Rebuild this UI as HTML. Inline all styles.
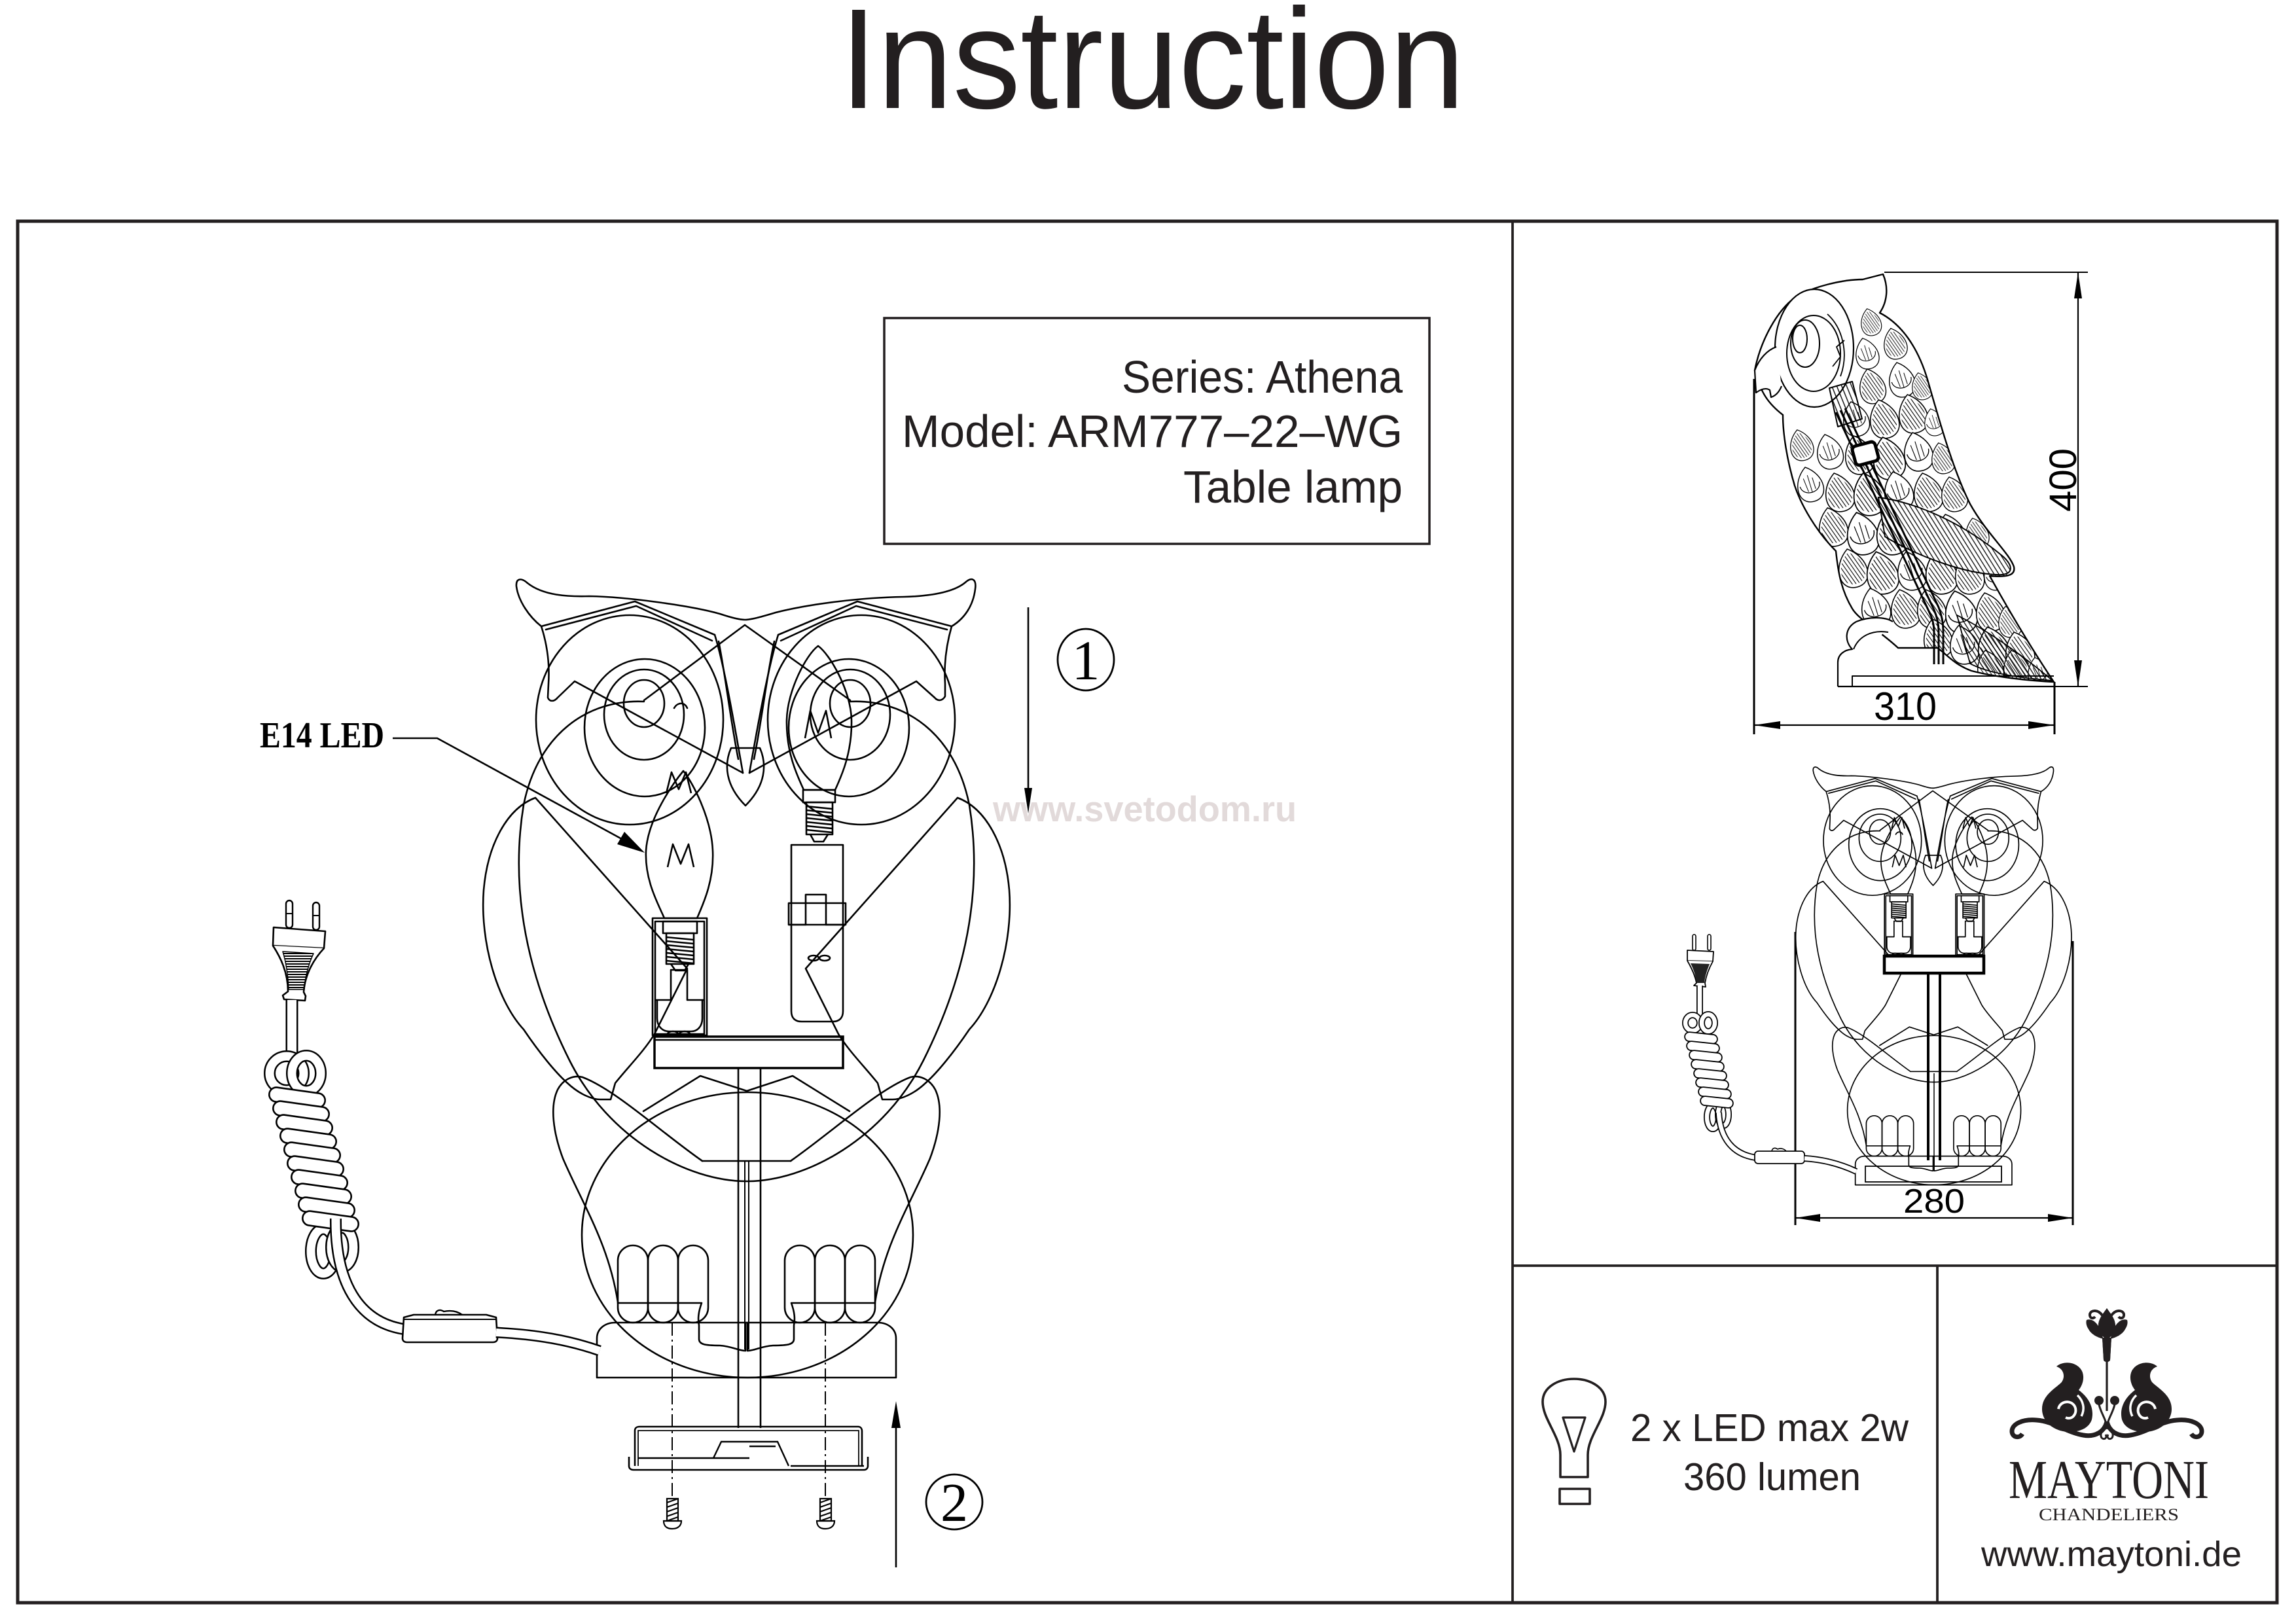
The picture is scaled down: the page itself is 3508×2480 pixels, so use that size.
<!DOCTYPE html>
<html><head><meta charset="utf-8">
<style>
html,body{margin:0;padding:0;background:#fff;}
svg{display:block;}
</style></head><body>
<svg width="3508" height="2480" viewBox="0 0 3508 2480" xmlns="http://www.w3.org/2000/svg" xmlns:xlink="http://www.w3.org/1999/xlink">
<defs>
  <pattern id="hatch" width="7" height="7" patternUnits="userSpaceOnUse" patternTransform="rotate(-22)">
    <line x1="1" y1="0" x2="1" y2="7" stroke="#000" stroke-width="1.4"/>
  </pattern>
  <pattern id="hatch2" width="6" height="6" patternUnits="userSpaceOnUse" patternTransform="rotate(-32)">
    <line x1="1" y1="0" x2="1" y2="6" stroke="#000" stroke-width="1.3"/>
  </pattern>
  <pattern id="hatch3" width="5" height="5" patternUnits="userSpaceOnUse" patternTransform="rotate(-20)">
    <line x1="1" y1="0" x2="1" y2="5" stroke="#000" stroke-width="1.1"/>
  </pattern>
  <pattern id="hz" width="4" height="4" patternUnits="userSpaceOnUse">
    <line x1="0" y1="1" x2="4" y2="1" stroke="#000" stroke-width="2"/>
  </pattern>

  <g id="feaA">
    <path d="M0,-30 C30,-9 28,30 0,30 C-28,30 -30,-9 0,-30 Z" fill="#fff" stroke="#000" stroke-width="1.6"/>
    <path d="M0,-25 C25,-8 24,25 0,25 C-24,25 -25,-8 0,-25 Z" fill="url(#hatch3)" stroke="none"/>
  </g>
  <g id="feaB">
    <path d="M0,-30 C30,-9 28,30 0,30 C-28,30 -30,-9 0,-30 Z" fill="#fff" stroke="#000" stroke-width="1.6"/>
    <path d="M-17,0 C-16,19 16,19 17,0" fill="none" stroke="#000" stroke-width="1.4"/>
    <path d="M-8,-12 L-5,12 M0,-16 L1,14 M7,-10 L8,10" fill="none" stroke="#000" stroke-width="1.1"/>
  </g>

  <clipPath id="bodyclip">
    <path d="M2681,566 C2690,520 2715,475 2742,455 C2770,437 2818,427 2846,427 L2877,419 C2886,440 2883,462 2872,478 C2905,495 2930,530 2945,580 C2965,650 2985,720 3010,770 C3035,815 3070,845 3077,866 C3080,880 3065,882 3040,880 C3065,925 3100,985 3138,1042 C3100,1040 3050,1035 3012,1025 C2985,1015 2975,1000 2960,990 L2900,990 C2870,962 2840,947 2830,930 C2812,900 2808,870 2805,842 C2775,812 2752,772 2742,742 C2730,702 2724,662 2724,634 C2702,617 2690,600 2681,566 Z"/>
  </clipPath>

  <g id="owlB" fill="none" stroke="#000" stroke-linejoin="round" stroke-linecap="round">
    <path d="M827,957 C808,942 792,918 789,896 C788,884 796,882 806,891 C830,910 868,912 900,911 C960,912 1058,926 1100,938 C1118,944 1130,947 1138,947 C1148,947 1165,942 1185,936 C1240,922 1320,913 1380,912 C1420,911 1458,905 1476,889 C1486,881 1492,886 1490,900 C1487,925 1474,945 1454,957"/>
    <path d="M827,957 L970,919 L1092,970"/>
    <path d="M834,962 L972,926 L1088,979"/>
    <path d="M1454,957 L1310,919 L1189,970"/>
    <path d="M1447,962 L1308,926 L1193,979"/>
    <path d="M827,957 C836,985 840,1015 838,1045 L837,1066 C840,1073 847,1072 852,1066 L878,1041 L1135,1181"/>
    <path d="M1454,957 C1446,985 1442,1015 1444,1045 L1444,1064 C1440,1071 1433,1072 1428,1066 L1400,1041 L1145,1181"/>
    <path d="M1092,970 C1106,1015 1120,1095 1135,1181"/>
    <path d="M1098,980 C1108,1030 1116,1100 1128,1160"/>
    <path d="M1189,970 C1175,1015 1160,1095 1145,1181"/>
    <path d="M1183,980 C1172,1030 1164,1100 1152,1160"/>
    <path d="M984,1070 L1138,955 L1299,1070"/>
    <path d="M1117,1143 L1161,1143 C1172,1168 1170,1200 1139,1231 C1108,1200 1106,1168 1117,1143 Z"/>
    <ellipse cx="984" cy="1075" rx="31" ry="36"/>
    <ellipse cx="984" cy="1092" rx="61" ry="69"/>
    <ellipse cx="985" cy="1112" rx="92" ry="105"/>
    <ellipse cx="962" cy="1100" rx="143" ry="160"/>
    <ellipse cx="1299" cy="1075" rx="31" ry="36"/>
    <ellipse cx="1299" cy="1092" rx="61" ry="69"/>
    <ellipse cx="1297" cy="1112" rx="92" ry="105"/>
    <ellipse cx="1316" cy="1100" rx="143" ry="160"/>
    <path d="M1030,1082 C1035,1073 1046,1072 1050,1082"/>
    <path d="M984,1072 C900,1068 822,1120 800,1230 C782,1340 795,1470 870,1620 C930,1740 1050,1805 1141,1805 C1232,1805 1351,1740 1411,1620 C1486,1470 1499,1340 1481,1230 C1459,1120 1382,1068 1299,1072"/>
    <path d="M818,1219 C775,1235 745,1290 739,1360 C733,1440 760,1530 800,1573 C825,1610 850,1640 867,1655 C885,1672 905,1680 917,1680 L933,1680 L940,1655 C960,1630 985,1605 1000,1580 L1050,1480 Z"/>
    <path d="M1463,1219 C1506,1235 1536,1290 1542,1360 C1548,1440 1521,1530 1481,1573 C1456,1610 1431,1640 1414,1655 C1396,1672 1376,1680 1364,1680 L1348,1680 L1341,1655 C1321,1630 1296,1605 1281,1580 L1231,1480 Z"/>
    <path d="M1073,1774 C1010,1730 940,1665 890,1646 C875,1642 860,1650 852,1665 C840,1690 845,1730 860,1770 C890,1840 930,1900 944,1990"/>
    <path d="M1208,1774 C1271,1730 1341,1665 1391,1646 C1406,1642 1421,1650 1429,1665 C1441,1690 1436,1730 1421,1770 C1391,1840 1351,1900 1337,1990"/>
    <path d="M983,1698 L1070,1644 L1141,1667 L1211,1644 L1298,1698"/>
    <path d="M1073,1774 L1208,1774"/>
    <ellipse cx="1142" cy="1887" rx="253" ry="218"/>
    <path d="M944,1926 A23,23 0 0 1 990,1926 L990,1998 A23,23 0 0 1 944,1998 Z"/>
    <path d="M990,1926 A23,23 0 0 1 1036,1926 L1036,1998 A23,23 0 0 1 990,1998 Z"/>
    <path d="M1036,1926 A23,23 0 0 1 1082,1926 L1082,1998 A23,23 0 0 1 1036,1998 Z"/>
    <path d="M1199,1926 A23,23 0 0 1 1245,1926 L1245,1998 A23,23 0 0 1 1199,1998 Z"/>
    <path d="M1245,1926 A23,23 0 0 1 1291,1926 L1291,1998 A23,23 0 0 1 1245,1998 Z"/>
    <path d="M1291,1926 A23,23 0 0 1 1337,1926 L1337,1998 A23,23 0 0 1 1291,1998 Z"/>
    <path d="M944,1991 L1072,1991 C1067,2005 1066,2015 1068,2025 L1068,2046 C1068,2054 1076,2056 1100,2056 C1118,2057 1128,2064 1139,2064 L1139,2021"/>
    <path d="M1337,1991 L1209,1991 C1214,2005 1215,2015 1213,2025 L1213,2046 C1213,2054 1205,2056 1181,2056 C1163,2057 1153,2064 1142,2064 L1142,2021"/>
    <path d="M912,2105 L912,2045 C912,2030 925,2021 940,2021 L1341,2021 C1356,2021 1369,2030 1369,2045 L1369,2105 Z"/>
  </g>

  <g id="assy" fill="none" stroke="#000" stroke-linejoin="round">
    <path d="M1044,1178 C1030,1195 990,1250 987,1300 C985,1345 1005,1380 1015,1403 L1065,1403 C1075,1380 1091,1345 1089,1300 C1087,1250 1058,1195 1044,1178 Z"/>
    <path d="M1018,1212 L1026,1180 L1037,1206 L1048,1180 L1056,1212"/>
    <path d="M1020,1325 L1028,1290 L1040,1320 L1052,1290 L1060,1325"/>
    <rect x="997" y="1403" width="83" height="179"/>
    <rect x="1001" y="1408" width="75" height="172"/>
    <path d="M1013,1408 L1065,1408 L1065,1426 L1013,1426 Z"/>
    <path d="M1018,1426 L1060,1426 L1060,1473 L1018,1473 Z"/>
    <path d="M1018,1432 L1060,1436 M1018,1438 L1060,1442 M1018,1444 L1060,1448 M1018,1450 L1060,1454 M1018,1456 L1060,1460 M1018,1462 L1060,1466 M1018,1468 L1060,1472"/>
    <path d="M1025,1473 L1032,1483 L1046,1483 L1052,1473"/>
    <path d="M1001,1528 L1025,1528 L1025,1482 L1050,1482 L1050,1528 L1076,1528"/>
    <path d="M1004,1528 L1004,1556 C1004,1568 1012,1576 1022,1576 L1056,1576 C1066,1576 1073,1568 1073,1556 L1073,1528"/>
    <ellipse cx="1028" cy="1580" rx="8" ry="4"/>
    <ellipse cx="1046" cy="1580" rx="8" ry="4"/>
  </g>
</defs>

<text x="1283" y="165" font-family="'Liberation Sans', Arial, sans-serif" font-size="218" textLength="955" lengthAdjust="spacingAndGlyphs" fill="#231f20">Instruction</text>

<rect x="27" y="338" width="3452" height="2111" fill="none" stroke="#231f20" stroke-width="5"/>
<line x1="2311" y1="338" x2="2311" y2="2449" stroke="#231f20" stroke-width="3.8"/>
<line x1="2311" y1="1934" x2="3479" y2="1934" stroke="#231f20" stroke-width="3.8"/>
<line x1="2960" y1="1934" x2="2960" y2="2449" stroke="#231f20" stroke-width="3.8"/>

<rect x="1351" y="486" width="833" height="345" fill="none" stroke="#231f20" stroke-width="3.5"/>
<g font-family="'Liberation Sans', Arial, sans-serif" font-size="70" fill="#231f20" text-anchor="end">
  <text x="2143" y="600" textLength="429" lengthAdjust="spacingAndGlyphs">Series: Athena</text>
  <text x="2143" y="683" textLength="765" lengthAdjust="spacingAndGlyphs">Model: ARM777–22–WG</text>
  <text x="2143" y="768" textLength="335" lengthAdjust="spacingAndGlyphs">Table lamp</text>
</g>

<text x="1517" y="1255" font-family="'Liberation Sans', Arial, sans-serif" font-weight="bold" font-size="55" textLength="464" lengthAdjust="spacingAndGlyphs" fill="#e2dada">www.svetodom.ru</text>

<use xlink:href="#owlB" href="#owlB" stroke-width="2.6"/>
<use xlink:href="#assy" href="#assy" stroke-width="2.6"/>

<g fill="none" stroke="#000" stroke-width="2.6" stroke-linejoin="round">
  <path d="M1250,987 C1232,1000 1203,1055 1202,1100 C1201,1150 1218,1185 1228,1207 L1276,1207 C1286,1185 1302,1150 1301,1100 C1300,1055 1268,1000 1250,987 Z"/>
  <path d="M1230,1128 L1238,1086 L1250,1120 L1262,1086 L1270,1128"/>
  <path d="M1227,1207 L1276,1207 L1276,1226 L1227,1226 Z"/>
  <path d="M1232,1226 L1272,1226 L1272,1275 L1232,1275 Z"/>
  <path d="M1232,1232 L1272,1236 M1232,1238 L1272,1242 M1232,1244 L1272,1248 M1232,1250 L1272,1254 M1232,1256 L1272,1260 M1232,1262 L1272,1266 M1232,1268 L1272,1272"/>
  <path d="M1238,1275 L1244,1286 L1258,1286 L1265,1275"/>
  <path d="M1209,1291 L1288,1291 L1288,1545 C1288,1556 1282,1561 1272,1561 L1225,1561 C1215,1561 1209,1556 1209,1545 Z"/>
  <rect x="1205" y="1380" width="87" height="33"/>
  <path d="M1205,1413 L1231,1413 L1231,1367 L1262,1367 L1262,1413 L1292,1413"/>
  <ellipse cx="1243" cy="1464" rx="8" ry="4"/>
  <ellipse cx="1260" cy="1464" rx="8" ry="4"/>
</g>

<g fill="none" stroke="#000">
  <rect x="1000" y="1584" width="288" height="48" stroke-width="3.5"/>
  <line x1="1000" y1="1589" x2="1288" y2="1589" stroke-width="2.5"/>
  <line x1="1128" y1="1632" x2="1128" y2="2182" stroke-width="2.6"/>
  <line x1="1162" y1="1632" x2="1162" y2="2182" stroke-width="2.6"/>
  <line x1="1138" y1="1774" x2="1138" y2="2062" stroke-width="2"/>
  <line x1="1144" y1="1774" x2="1144" y2="2062" stroke-width="2"/>
  <line x1="1027" y1="2021" x2="1027" y2="2292" stroke-width="2" stroke-dasharray="20 6 3 6"/>
  <line x1="1261" y1="2021" x2="1261" y2="2292" stroke-width="2" stroke-dasharray="20 6 3 6"/>
  <path d="M970,2240 L970,2186 C970,2182 973,2180 977,2180 L1311,2180 C1315,2180 1317,2183 1317,2187 L1317,2240" stroke-width="2.6"/>
  <path d="M975,2240 L975,2186 L1312,2186 L1312,2240" stroke-width="1.8"/>
  <path d="M961,2226 L961,2240 C961,2244 964,2246 968,2246 L1320,2246 C1324,2246 1326,2243 1326,2240 L1326,2226" stroke-width="2.6"/>
  <path d="M975,2228 L1145,2228 M1090,2228 L1102,2203 L1188,2203 L1205,2240 M1145,2210 L1185,2210 M1208,2240 L1320,2240" stroke-width="2.4"/>
  <g stroke-width="2.2">
    <rect x="1019" y="2290" width="17" height="34"/>
    <path d="M1019,2296 L1036,2290 M1019,2303 L1036,2297 M1019,2310 L1036,2304 M1019,2317 L1036,2311 M1019,2324 L1036,2318"/>
    <path d="M1014,2324 L1041,2324 C1041,2332 1035,2336 1027,2336 C1019,2336 1014,2332 1014,2324 Z"/>
    <rect x="1253" y="2290" width="17" height="34"/>
    <path d="M1253,2296 L1270,2290 M1253,2303 L1270,2297 M1253,2310 L1270,2304 M1253,2317 L1270,2311 M1253,2324 L1270,2318"/>
    <path d="M1248,2324 L1275,2324 C1275,2332 1269,2336 1261,2336 C1253,2336 1248,2332 1248,2324 Z"/>
  </g>
</g>

<text x="397" y="1142" font-family="'Liberation Serif', 'Times New Roman', serif" font-weight="bold" font-size="56" textLength="190" lengthAdjust="spacingAndGlyphs" fill="#000">E14 LED</text>
<path d="M600,1128 L668,1128 L950,1282" fill="none" stroke="#000" stroke-width="2.6"/>
<path d="M985,1303 L943,1290 L954,1271 Z" fill="#000"/>

<line x1="1571" y1="928" x2="1571" y2="1210" stroke="#000" stroke-width="2.6"/>
<path d="M1571,1243 L1565,1204 L1577,1204 Z" fill="#000"/>
<ellipse cx="1659" cy="1008" rx="43" ry="47" fill="none" stroke="#000" stroke-width="2.8"/>
<text x="1659" y="1038" text-anchor="middle" font-family="'Liberation Serif', serif" font-size="86" fill="#000">1</text>

<line x1="1369" y1="2395" x2="1369" y2="2175" stroke="#000" stroke-width="2.6"/>
<path d="M1369,2141 L1362,2182 L1376,2182 Z" fill="#000"/>
<ellipse cx="1458" cy="2295" rx="43" ry="42" fill="none" stroke="#000" stroke-width="2.8"/>
<text x="1458" y="2324" text-anchor="middle" font-family="'Liberation Serif', serif" font-size="84" fill="#000">2</text>

<g fill="none" stroke="#000" stroke-linejoin="round">
  <rect x="437" y="1376" width="10" height="42" rx="5" stroke-width="2.4" fill="#fff"/>
  <rect x="478" y="1379" width="10" height="42" rx="5" stroke-width="2.4" fill="#fff"/>
  <path d="M437,1396 L447,1396 M478,1399 L488,1399" stroke-width="2"/>
  <path d="M418,1417 L497,1423 L495,1449 L417,1445 Z" stroke-width="2.6" fill="#fff"/>
  <path d="M417,1445 C428,1462 440,1485 440,1515 L432,1521 L434,1527 L466,1529 L467,1522 L464,1516 C466,1488 480,1465 495,1449" stroke-width="2.6" fill="#fff"/>
  <path d="M432,1454 L479,1457 C472,1472 466,1492 465,1512 L441,1512 C440,1490 437,1470 432,1454 Z" fill="url(#hz)" stroke="#000" stroke-width="1.5"/>
  <path d="M446,1528 L446,1612" stroke-width="19"/>
  <path d="M446,1528 L446,1612" stroke="#fff" stroke-width="14"/>
  <ellipse cx="438" cy="1640" rx="26" ry="26" stroke-width="18"/>
  <ellipse cx="438" cy="1640" rx="26" ry="26" stroke="#fff" stroke-width="13"/>
  <ellipse cx="468" cy="1640" rx="22" ry="27" stroke-width="18"/>
  <ellipse cx="468" cy="1640" rx="22" ry="27" stroke="#fff" stroke-width="13"/>
  <ellipse cx="494" cy="1912" rx="19" ry="34" stroke-width="18"/>
  <ellipse cx="494" cy="1912" rx="19" ry="34" stroke="#fff" stroke-width="13"/>
  <ellipse cx="523" cy="1906" rx="17" ry="30" stroke-width="18"/>
  <ellipse cx="523" cy="1906" rx="17" ry="30" stroke="#fff" stroke-width="13"/>
  <g fill="#fff" stroke-width="2.6">
    <rect x="-43" y="-11" width="86" height="22" rx="11" transform="translate(454,1677) rotate(8)"/>
    <rect x="-43" y="-11" width="86" height="22" rx="11" transform="translate(460,1698) rotate(8)"/>
    <rect x="-43" y="-11" width="86" height="22" rx="11" transform="translate(465,1719) rotate(8)"/>
    <rect x="-43" y="-11" width="86" height="22" rx="11" transform="translate(471,1740) rotate(8)"/>
    <rect x="-43" y="-11" width="86" height="22" rx="11" transform="translate(477,1761) rotate(8)"/>
    <rect x="-43" y="-11" width="86" height="22" rx="11" transform="translate(482,1782) rotate(8)"/>
    <rect x="-43" y="-11" width="86" height="22" rx="11" transform="translate(488,1803) rotate(8)"/>
    <rect x="-43" y="-11" width="86" height="22" rx="11" transform="translate(494,1824) rotate(8)"/>
    <rect x="-43" y="-11" width="86" height="22" rx="11" transform="translate(499,1845) rotate(8)"/>
    <rect x="-43" y="-11" width="86" height="22" rx="11" transform="translate(505,1866) rotate(8)"/>
  </g>
  <path d="M513,1862 C512,1960 548,2020 617,2031" stroke-width="18"/>
  <path d="M513,1862 C512,1960 548,2020 617,2031" stroke="#fff" stroke-width="13"/>
  <path d="M665,2009 C666,2002 672,2000 678,2004 C688,2002 698,2003 706,2009" stroke-width="2.4"/>
  <path d="M617,2013 L632,2009 L743,2009 L758,2013 L760,2045 C760,2049 757,2051 753,2051 L622,2051 C618,2051 615,2049 615,2045 Z" fill="#fff" stroke-width="2.6"/>
  <line x1="617" y1="2016" x2="758" y2="2016" stroke-width="2"/>
  <path d="M758,2036 C820,2039 870,2048 916,2064" stroke-width="17"/>
  <path d="M758,2036 C820,2039 870,2048 916,2064" stroke="#fff" stroke-width="12"/>
</g>

<!-- SIDE VIEW -->
<path d="M2681,566 C2690,520 2715,475 2742,455 C2770,437 2818,427 2846,427 L2877,419 C2886,440 2883,462 2872,478 C2905,495 2930,530 2945,580 C2965,650 2985,720 3010,770 C3035,815 3070,845 3077,866 C3080,880 3065,882 3040,880 C3065,925 3100,985 3138,1042 C3100,1040 3050,1035 3012,1025 C2985,1015 2975,1000 2960,990 L2900,990 C2870,962 2840,947 2830,930 C2812,900 2808,870 2805,842 C2775,812 2752,772 2742,742 C2730,702 2724,662 2724,634 C2702,617 2690,600 2681,566 Z" fill="#fff" stroke="none"/>
<g clip-path="url(#bodyclip)">
  <use xlink:href="#feaA" href="#feaA" transform="translate(2858,492) rotate(-15) scale(0.7)"/>
  <use xlink:href="#feaB" href="#feaB" transform="translate(2852,540) rotate(-15) scale(0.8)"/>
  <use xlink:href="#feaA" href="#feaA" transform="translate(2895,525) rotate(-15) scale(0.8)"/>
  <use xlink:href="#feaA" href="#feaA" transform="translate(2860,590) rotate(-15) scale(0.9)"/>
  <use xlink:href="#feaB" href="#feaB" transform="translate(2905,580) rotate(-15) scale(0.9)"/>
  <use xlink:href="#feaA" href="#feaA" transform="translate(2936,590) rotate(-15) scale(0.7)"/>
  <use xlink:href="#feaB" href="#feaB" transform="translate(2835,640) rotate(-15) scale(0.9)"/>
  <use xlink:href="#feaA" href="#feaA" transform="translate(2878,640) rotate(-15) scale(1)"/>
  <use xlink:href="#feaA" href="#feaA" transform="translate(2922,632) rotate(-15) scale(1)"/>
  <use xlink:href="#feaB" href="#feaB" transform="translate(2955,645) rotate(-15) scale(0.7)"/>
  <use xlink:href="#feaA" href="#feaA" transform="translate(2752,680) rotate(-15) scale(0.8)"/>
  <use xlink:href="#feaB" href="#feaB" transform="translate(2795,690) rotate(-15) scale(0.9)"/>
  <use xlink:href="#feaA" href="#feaA" transform="translate(2840,695) rotate(-15) scale(1)"/>
  <use xlink:href="#feaA" href="#feaA" transform="translate(2885,700) rotate(-15) scale(1.1)"/>
  <use xlink:href="#feaB" href="#feaB" transform="translate(2930,690) rotate(-15) scale(1)"/>
  <use xlink:href="#feaA" href="#feaA" transform="translate(2968,700) rotate(-15) scale(0.8)"/>
  <use xlink:href="#feaB" href="#feaB" transform="translate(2765,740) rotate(-15) scale(0.9)"/>
  <use xlink:href="#feaA" href="#feaA" transform="translate(2810,752) rotate(-15) scale(1)"/>
  <use xlink:href="#feaA" href="#feaA" transform="translate(2855,755) rotate(-15) scale(1.1)"/>
  <use xlink:href="#feaB" href="#feaB" transform="translate(2900,750) rotate(-15) scale(1)"/>
  <use xlink:href="#feaA" href="#feaA" transform="translate(2945,752) rotate(-15) scale(1)"/>
  <use xlink:href="#feaA" href="#feaA" transform="translate(2985,755) rotate(-15) scale(0.9)"/>
  <use xlink:href="#feaA" href="#feaA" transform="translate(2800,805) rotate(-15) scale(1)"/>
  <use xlink:href="#feaB" href="#feaB" transform="translate(2845,815) rotate(-15) scale(1.1)"/>
  <use xlink:href="#feaA" href="#feaA" transform="translate(2890,815) rotate(-15) scale(1.1)"/>
  <use xlink:href="#feaA" href="#feaA" transform="translate(2935,812) rotate(-15) scale(1)"/>
  <use xlink:href="#feaB" href="#feaB" transform="translate(2980,815) rotate(-15) scale(1)"/>
  <use xlink:href="#feaA" href="#feaA" transform="translate(3020,815) rotate(-15) scale(0.8)"/>
  <use xlink:href="#feaA" href="#feaA" transform="translate(2830,868) rotate(-15) scale(1)"/>
  <use xlink:href="#feaA" href="#feaA" transform="translate(2875,875) rotate(-15) scale(1.1)"/>
  <use xlink:href="#feaB" href="#feaB" transform="translate(2920,872) rotate(-15) scale(1)"/>
  <use xlink:href="#feaA" href="#feaA" transform="translate(2965,875) rotate(-15) scale(1.1)"/>
  <use xlink:href="#feaA" href="#feaA" transform="translate(3008,878) rotate(-15) scale(1)"/>
  <use xlink:href="#feaB" href="#feaB" transform="translate(3048,878) rotate(-15) scale(0.8)"/>
  <use xlink:href="#feaB" href="#feaB" transform="translate(2865,928) rotate(-15) scale(1)"/>
  <use xlink:href="#feaA" href="#feaA" transform="translate(2910,930) rotate(-15) scale(1)"/>
  <use xlink:href="#feaA" href="#feaA" transform="translate(2950,930) rotate(-15) scale(1)"/>
  <use xlink:href="#feaB" href="#feaB" transform="translate(2995,935) rotate(-15) scale(1.1)"/>
  <use xlink:href="#feaA" href="#feaA" transform="translate(3040,935) rotate(-15) scale(1)"/>
  <use xlink:href="#feaA" href="#feaA" transform="translate(3070,950) rotate(-15) scale(0.8)"/>
  <use xlink:href="#feaA" href="#feaA" transform="translate(2960,975) rotate(-15) scale(1)"/>
  <use xlink:href="#feaB" href="#feaB" transform="translate(3000,985) rotate(-15) scale(1)"/>
  <use xlink:href="#feaA" href="#feaA" transform="translate(3045,990) rotate(-15) scale(1.1)"/>
  <use xlink:href="#feaA" href="#feaA" transform="translate(3085,995) rotate(-15) scale(1)"/>
  <use xlink:href="#feaA" href="#feaA" transform="translate(3040,1020) rotate(-15) scale(0.9)"/>
  <use xlink:href="#feaA" href="#feaA" transform="translate(3080,1020) rotate(-15) scale(0.9)"/>
  <use xlink:href="#feaB" href="#feaB" transform="translate(3115,1028) rotate(-15) scale(0.8)"/>
  <path d="M2870,760 C2930,768 3000,800 3060,850 C3078,866 3076,880 3050,878 C3000,876 2930,850 2880,820 Z" fill="#fff" stroke="#000" stroke-width="2"/>
  <path d="M2870,760 C2930,768 3000,800 3060,850 C3078,866 3076,880 3050,878 C3000,876 2930,850 2880,820 Z" fill="url(#hatch2)" stroke="none"/>
  <path d="M2990,940 C3040,965 3095,1005 3136,1040 C3090,1036 3040,1030 3010,1014 Z" fill="url(#hatch2)" stroke="#000" stroke-width="1.8"/>
</g>
<g fill="none" stroke="#000" stroke-linejoin="round">
  <path d="M2681,566 C2690,520 2715,475 2742,455 C2770,437 2818,427 2846,427 L2877,419 C2886,440 2883,462 2872,478 C2905,495 2930,530 2945,580 C2965,650 2985,720 3010,770 C3035,815 3070,845 3077,866 C3080,880 3065,882 3040,880 C3065,925 3100,985 3138,1042 C3100,1040 3050,1035 3012,1025 C2985,1015 2975,1000 2960,990 L2900,990 C2870,962 2840,947 2830,930 C2812,900 2808,870 2805,842 C2775,812 2752,772 2742,742 C2730,702 2724,662 2724,634 C2702,617 2690,600 2681,566 Z" stroke-width="2.4"/>
  <ellipse cx="2772" cy="532" rx="60" ry="90" fill="#fff" stroke-width="2.2"/>
  <ellipse cx="2771" cy="540" rx="41" ry="58" stroke-width="2"/>
  <ellipse cx="2758" cy="525" rx="22" ry="36" stroke-width="2"/>
  <ellipse cx="2750" cy="518" rx="11" ry="21" stroke-width="2"/>
  <path d="M2792,480 C2815,500 2825,540 2812,575 M2800,560 L2812,545 L2806,530 L2818,520" stroke-width="1.8"/>
  <path d="M2714,530 C2700,535 2688,548 2681,566 L2683,600 C2690,595 2698,592 2704,596 L2706,607 C2712,605 2718,600 2722,590" fill="#fff" stroke-width="2.2"/>
  <path d="M2795,593 L2830,583 L2845,640 L2808,652 Z" fill="url(#hatch)" stroke-width="2"/>
  <path d="M2805,630 L2948,936 Q2955,950 2955,966 L2955,1015" stroke-width="3"/>
  <path d="M2812,627 L2955,932 Q2962,948 2962,965 L2962,1015" stroke-width="3"/>
  <path d="M2819,624 L2962,928 Q2969,946 2969,964 L2969,1015" stroke-width="3"/>
  <rect x="2832" y="678" width="36" height="30" rx="6" stroke-width="5" transform="rotate(-15 2850 693)" fill="#fff"/>
  <path d="M2808,1049 L2808,1012 C2808,1000 2818,993 2830,992 C2818,980 2818,960 2836,950 C2855,942 2880,942 2892,950" fill="#fff" stroke-width="2.2"/>
  <path d="M2832,992 C2840,972 2860,962 2885,966" stroke-width="2"/>
  <path d="M2830,1049 L2830,1033 L3138,1033" stroke-width="2"/>
  <path d="M2808,1049 L3140,1049" stroke-width="2.2"/>
</g>
<g stroke="#000" fill="none">
  <line x1="2879" y1="416" x2="3190" y2="416" stroke-width="2"/>
  <line x1="3140" y1="1049" x2="3190" y2="1049" stroke-width="2"/>
  <line x1="3175" y1="416" x2="3175" y2="1049" stroke-width="2.2"/>
  <line x1="2680" y1="579" x2="2680" y2="1122" stroke-width="3"/>
  <line x1="3139" y1="1042" x2="3139" y2="1122" stroke-width="3"/>
  <line x1="2680" y1="1108" x2="3139" y2="1108" stroke-width="2.2"/>
</g>
<g fill="#000">
  <path d="M3175,416 L3169,456 L3181,456 Z"/>
  <path d="M3175,1049 L3169,1009 L3181,1009 Z"/>
  <path d="M2680,1108 L2720,1102 L2720,1114 Z"/>
  <path d="M3139,1108 L3099,1102 L3099,1114 Z"/>
</g>
<text transform="translate(3172,782) rotate(-90)" font-family="'Liberation Sans', Arial, sans-serif" font-size="58" textLength="97" lengthAdjust="spacingAndGlyphs" fill="#000">400</text>
<text x="2863" y="1100" font-family="'Liberation Sans', Arial, sans-serif" font-size="60" textLength="96" lengthAdjust="spacingAndGlyphs" fill="#000">310</text>

<!-- SMALL FRONT VIEW -->
<use xlink:href="#owlB" href="#owlB" transform="translate(2953,1176) scale(0.5236) translate(-1138,-893)" stroke-width="3.2"/>
<use xlink:href="#assy" href="#assy" transform="translate(2953,1099) scale(0.5236) translate(-1138,-893)" stroke-width="3.2"/>
<use xlink:href="#assy" href="#assy" transform="translate(2953,1099) scale(0.5236) translate(-930,-893)" stroke-width="3.2"/>
<g fill="none" stroke="#000">
  <rect x="2879" y="1461" width="152" height="26" stroke-width="4.5" fill="#fff"/>
  <line x1="2946" y1="1487" x2="2946" y2="1773" stroke-width="4"/>
  <line x1="2964" y1="1487" x2="2964" y2="1773" stroke-width="4"/>
  <line x1="2955" y1="1640" x2="2955" y2="1782" stroke-width="1.5"/>
  <rect x="2850" y="1782" width="208" height="24" stroke-width="1.8"/>
  <line x1="2743" y1="1424" x2="2743" y2="1872" stroke-width="3"/>
  <line x1="3167" y1="1438" x2="3167" y2="1872" stroke-width="3"/>
  <line x1="2743" y1="1861" x2="3167" y2="1861" stroke-width="2.2"/>
</g>
<g fill="#000">
  <path d="M2743,1861 L2781,1855 L2781,1867 Z"/>
  <path d="M3167,1861 L3129,1855 L3129,1867 Z"/>
</g>
<text x="2908" y="1853" font-family="'Liberation Sans', Arial, sans-serif" font-size="52" textLength="94" lengthAdjust="spacingAndGlyphs" fill="#000">280</text>

<g fill="none" stroke="#000" stroke-linejoin="round">
  <rect x="2586" y="1428" width="5" height="24" rx="2.5" stroke-width="1.6" fill="#fff"/>
  <rect x="2609" y="1428" width="5" height="24" rx="2.5" stroke-width="1.6" fill="#fff"/>
  <path d="M2578,1452 L2618,1454 L2617,1469 L2578,1468 Z" stroke-width="1.8" fill="#fff"/>
  <path d="M2578,1468 C2585,1480 2590,1492 2592,1502 L2588,1506 L2606,1508 L2605,1502 C2607,1490 2612,1478 2617,1469" stroke-width="1.8" fill="#fff"/>
  <path d="M2583,1472 L2612,1473 C2608,1483 2605,1492 2604,1502 L2592,1502 C2591,1492 2588,1482 2583,1472 Z" fill="#222" stroke="none"/>
  <path d="M2597,1506 L2597,1550" stroke-width="10"/>
  <path d="M2597,1506 L2597,1550" stroke="#fff" stroke-width="6.5"/>
  <ellipse cx="2586" cy="1563" rx="11" ry="12" stroke-width="10"/>
  <ellipse cx="2586" cy="1563" rx="11" ry="12" stroke="#fff" stroke-width="6.5"/>
  <ellipse cx="2610" cy="1563" rx="10" ry="13" stroke-width="10"/>
  <ellipse cx="2610" cy="1563" rx="10" ry="13" stroke="#fff" stroke-width="6.5"/>
  <ellipse cx="2617" cy="1707" rx="9" ry="18" stroke-width="10"/>
  <ellipse cx="2617" cy="1707" rx="9" ry="18" stroke="#fff" stroke-width="6.5"/>
  <ellipse cx="2633" cy="1703" rx="8" ry="17" stroke-width="10"/>
  <ellipse cx="2633" cy="1703" rx="8" ry="17" stroke="#fff" stroke-width="6.5"/>
  <g fill="#fff" stroke-width="1.8">
    <rect x="-25" y="-7" width="50" height="14" rx="7" transform="translate(2599,1586) rotate(6)"/>
    <rect x="-25" y="-7" width="50" height="14" rx="7" transform="translate(2602,1600) rotate(6)"/>
    <rect x="-25" y="-7" width="50" height="14" rx="7" transform="translate(2606,1614) rotate(6)"/>
    <rect x="-25" y="-7" width="50" height="14" rx="7" transform="translate(2609,1628) rotate(6)"/>
    <rect x="-25" y="-7" width="50" height="14" rx="7" transform="translate(2613,1642) rotate(6)"/>
    <rect x="-25" y="-7" width="50" height="14" rx="7" transform="translate(2616,1656) rotate(6)"/>
    <rect x="-25" y="-7" width="50" height="14" rx="7" transform="translate(2620,1670) rotate(6)"/>
    <rect x="-25" y="-7" width="50" height="14" rx="7" transform="translate(2623,1684) rotate(6)"/>
  </g>
  <path d="M2626,1700 C2628,1740 2648,1764 2683,1769" stroke-width="10"/>
  <path d="M2626,1700 C2628,1740 2648,1764 2683,1769" stroke="#fff" stroke-width="6.5"/>
  <path d="M2707,1759 C2708,1754 2712,1753 2716,1756 C2720,1754 2726,1755 2729,1759" stroke-width="1.6"/>
  <rect x="2681" y="1759" width="76" height="19" rx="5" stroke-width="1.8" fill="#fff"/>
  <path d="M2757,1770 C2790,1772 2815,1780 2836,1790" stroke-width="10"/>
  <path d="M2757,1770 C2790,1772 2815,1780 2836,1790" stroke="#fff" stroke-width="6.5"/>
</g>

<!-- BOTTOM PANELS -->
<g fill="none" stroke="#231f20" stroke-linejoin="round">
  <path d="M2384,2223 C2384,2195 2357,2168 2357,2142 C2357,2120 2380,2107 2405,2107 C2430,2107 2453,2120 2453,2142 C2453,2168 2426,2195 2426,2223 L2426,2257 L2384,2257 Z" stroke-width="3.6"/>
  <path d="M2388,2166 L2422,2166 L2405,2218 Z" stroke-width="3.2"/>
  <rect x="2383" y="2275" width="46" height="23" stroke-width="3.6"/>
</g>
<g font-family="'Liberation Sans', Arial, sans-serif" fill="#231f20">
  <text x="2491" y="2202" font-size="59" textLength="425" lengthAdjust="spacingAndGlyphs">2 x LED max 2w</text>
  <text x="2572" y="2277" font-size="59" textLength="271" lengthAdjust="spacingAndGlyphs">360 lumen</text>
  <text x="3027" y="2393" font-size="54" textLength="398" lengthAdjust="spacingAndGlyphs">www.maytoni.de</text>
</g>
<g font-family="'Liberation Serif', 'Times New Roman', serif" fill="#231f20">
  <text x="3069" y="2289" font-size="84" textLength="306" lengthAdjust="spacingAndGlyphs">MAYTONI</text>
  <text x="3115" y="2323" font-size="26" textLength="214" lengthAdjust="spacingAndGlyphs">CHANDELIERS</text>
</g>

<g id="logoL" fill="#231f20" stroke="none">
  <path d="M3219,1999 C3213,2008 3206,2015 3206,2026 C3206,2037 3212,2043 3219,2046 C3226,2043 3232,2037 3232,2026 C3232,2015 3225,2008 3219,1999 Z"/>
  <path d="M3188,2017 C3196,2014 3205,2021 3210,2034 C3211,2040 3214,2046 3214,2046 C3205,2044 3195,2039 3191,2031 C3187,2025 3187,2020 3188,2017 Z"/>
  <path d="M3212,2010 C3206,2001 3195,2001 3193,2008 C3192,2014 3198,2016 3201,2012" fill="none" stroke="#231f20" stroke-width="4"/>
  <path d="M3212,2044 L3226,2044 L3224,2078 C3223,2082 3215,2082 3214,2078 Z"/>
  <rect x="3217.6" y="2076" width="3" height="80"/>
  <circle cx="3207" cy="2140" r="7"/>
  <path d="M3207,2146 C3210,2160 3218,2168 3219,2182" fill="none" stroke="#231f20" stroke-width="3"/>
  <path d="M3219,2172 C3215,2189 3200,2196 3183,2193 C3158,2189 3138,2172 3112,2170 C3090,2168 3074,2176 3074,2187 C3074,2196 3085,2199 3090,2191" fill="none" stroke="#231f20" stroke-width="7"/>
  <path d="M3142,2088 C3152,2079 3173,2080 3181,2095 C3186,2106 3181,2118 3176,2124 C3192,2136 3200,2152 3196,2169 C3192,2182 3178,2188 3162,2188 C3139,2188 3120,2173 3120,2153 C3120,2133 3138,2123 3149,2113 C3156,2105 3154,2092 3142,2088 Z"/>
  <path d="M3145,2153 C3147,2141 3164,2138 3170,2149 C3175,2159 3166,2171 3156,2166" fill="none" stroke="#fff" stroke-width="4"/>
  <path d="M3174,2132 C3183,2140 3186,2153 3180,2164" fill="none" stroke="#fff" stroke-width="3.5"/>
  <path d="M3219,2182 C3211,2185 3208,2192 3211,2197 C3215,2201 3220,2197 3217,2192" fill="none" stroke="#231f20" stroke-width="3"/>
</g>
<use xlink:href="#logoL" href="#logoL" transform="translate(6438,0) scale(-1,1)"/>

</svg>
</body></html>
